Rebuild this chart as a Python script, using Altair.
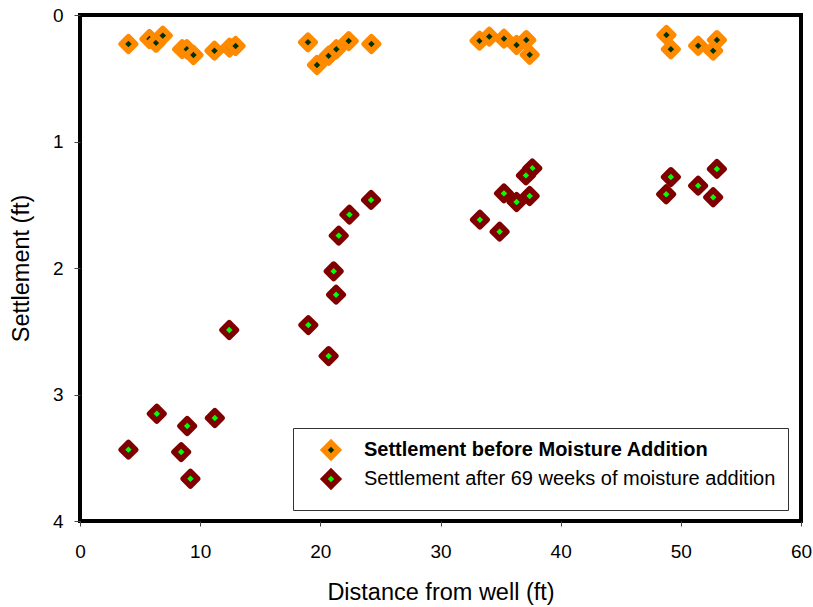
import altair as alt
import pandas as pd

SER_B = "Settlement before Moisture Addition"
SER_A = "Settlement after 69 weeks of moisture addition"

before_x = [4.03, 5.78, 6.33, 6.89, 8.5, 8.89, 9.44, 11.19, 12.44, 12.95,
            18.97, 19.72, 20.69, 21.33, 22.36, 24.25,
            33.25, 34.06, 35.28, 36.33, 37.14, 37.42,
            48.8, 49.17, 51.44, 52.69, 53.0]
before_y = [0.229, 0.19, 0.219, 0.163, 0.27, 0.271, 0.316, 0.282, 0.258, 0.245,
            0.216, 0.395, 0.322, 0.271, 0.206, 0.229,
            0.203, 0.171, 0.187, 0.237, 0.198, 0.314,
            0.158, 0.271, 0.243, 0.282, 0.198]

after_x = [6.39, 8.92, 11.22, 4.03, 8.42, 9.19, 12.42,
           24.22, 22.42, 21.53, 21.11, 21.31, 19.0, 20.69,
           37.64, 37.11, 35.28, 37.42, 36.33, 33.28, 34.92,
           49.17, 53.0, 51.44, 48.78, 52.69]
after_y = [3.152, 3.249, 3.186, 3.436, 3.455, 3.666, 2.49,
           1.462, 1.578, 1.744, 2.026, 2.211, 2.451, 2.696,
           1.212, 1.268, 1.41, 1.431, 1.478, 1.618, 1.713,
           1.281, 1.217, 1.349, 1.417, 1.441]

df = pd.DataFrame({
    "x": before_x + after_x,
    "y": before_y + after_y,
    "series": [SER_B] * len(before_x) + [SER_A] * len(after_x),
})

FONT = "Liberation Sans"

legend = alt.Legend(
    title=None,
    orient="none",
    legendX=213,
    legendY=413,
    padding=12,
    symbolOffset=16,
    symbolType="diamond",
    symbolSize=207,
    symbolStrokeWidth=5.6,
    labelFont=FONT,
    labelFontSize=20,
    labelColor="black",
    labelOffset=23,
    labelLimit=600,
    rowPadding=-12,
    strokeColor="#333333",
    fillColor="white",
    labelFontWeight={"expr": "datum.label == '" + SER_B + "' ? 'bold' : 'normal'"},
)

chart = alt.Chart(df).mark_point(
    shape="diamond", size=207, strokeWidth=5.6, strokeJoin="round",
    opacity=1, fillOpacity=1, strokeOpacity=1, filled=True,
).encode(
    x=alt.X("x:Q", scale=alt.Scale(domain=[0, 60], nice=False),
            axis=alt.Axis(title="Distance from well (ft)", values=[0, 10, 20, 30, 40, 50, 60])),
    y=alt.Y("y:Q", scale=alt.Scale(domain=[0, 4], reverse=True, nice=False),
            axis=alt.Axis(title="Settlement (ft)", values=[0, 1, 2, 3, 4])),
    fill=alt.Fill("series:N", scale=alt.Scale(domain=[SER_B, SER_A], range=["#003300", "#00FF00"]),
                  legend=legend),
    stroke=alt.Stroke("series:N", scale=alt.Scale(domain=[SER_B, SER_A], range=["#FF8A00", "#800000"]),
                      legend=legend),
).properties(
    width=721, height=506,
    autosize=alt.AutoSizeParams(type="none"),
    padding={"left": 80, "top": 15, "right": 12, "bottom": 86},
).configure_view(
    stroke="black", strokeWidth=4,
).configure_axis(
    grid=False, domain=False, labelFlush=False,
    labelFont=FONT, labelFontSize=19, labelColor="black",
    titleFont=FONT, titleFontSize=23.5, titleFontWeight="normal", titleColor="black",
    tickColor="#444444", tickWidth=1,
).configure_axisX(
    tickSize=5, labelPadding=16, titlePadding=19,
).configure_axisY(
    tickSize=6, labelPadding=11, titlePadding=19,
)

chart.save("out.html", embed_options={"renderer": "svg", "actions": False})
